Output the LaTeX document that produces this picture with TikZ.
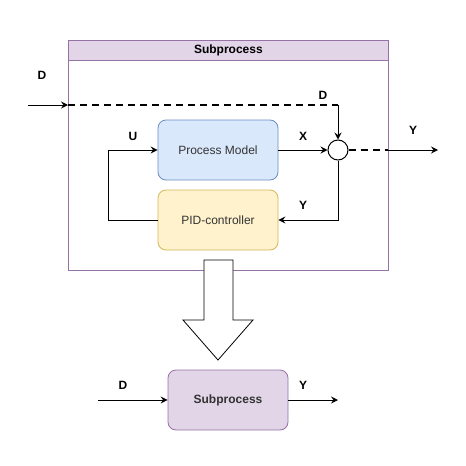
\documentclass[tikz,border=0pt]{standalone}
\usepackage{fontspec}
\setmainfont{Liberation Sans}
\usetikzlibrary{arrows.meta,shapes.arrows}
\definecolor{purpfill}{HTML}{E1D5E7}
\definecolor{purpline}{HTML}{9673A6}
\definecolor{bluefill}{HTML}{DAE8FC}
\definecolor{blueline}{HTML}{6C8EBF}
\definecolor{yelfill}{HTML}{FFF2CC}
\definecolor{yelline}{HTML}{D6B656}
\definecolor{txt}{HTML}{333333}
\begin{document}
\begin{tikzpicture}[x=1pt,y=-1pt,
  box/.style={draw,rounded corners=8pt,minimum width=120pt,minimum height=60pt,line width=0.8pt,font=\fontsize{12}{14}\selectfont,text=txt},
  lbl/.style={font=\bfseries\fontsize{12}{14}\selectfont},
  conn/.style={line width=1pt,-{Stealth[length=7pt,width=7pt,inset=2.5pt]}},
  plain/.style={line width=1pt},
  dashline/.style={line width=2pt,dash pattern=on 7pt off 5pt}]
\useasboundingbox (0,0) rectangle (466,466);
% container
\node[draw=purpline,fill=purpfill,line width=0.8pt,minimum width=320pt,minimum height=20pt,inner sep=0pt,anchor=north west,font=\bfseries\fontsize{12}{14}\selectfont] (hdr) at (68,40) {Subprocess};
\node[draw=purpline,line width=0.8pt,minimum width=320pt,minimum height=210pt,inner sep=0pt,anchor=north west] (cont) at (68,60) {};
% boxes
\node[box,draw=blueline,fill=bluefill] (pm) at (218,150) {Process Model};
\node[box,draw=yelline,fill=yelfill] (pid) at (218,220) {PID-controller};
\node[circle,draw,fill=white,line width=1pt,minimum size=20pt,inner sep=0pt] (sum) at (338,150) {};
% coordinates
\coordinate (din) at (28,105);
\coordinate (dedge) at (68,105);
\coordinate (dcorner) at (338,105);
\coordinate (yedge) at (388,150);
\coordinate (yout) at (438,150);
\coordinate (loopA) at (108,220);
\coordinate (loopB) at (108,150);
\coordinate (fbA) at (338,220);
% connectors
\draw[conn] (din) -- (dedge);
\draw[dashline] (dedge) -- (dcorner);
\draw[conn] (dcorner) -- (sum.north);
\draw[conn] (pm.east) -- (sum.west);
\draw[dashline] (sum.east) -- (yedge);
\draw[conn] (yedge) -- (yout);
\draw[conn] (pid.west) -- (loopA) -- (loopB) -- (pm.west);
\draw[conn] (sum.south) -- (fbA) -- (pid.east);
% labels
\node[lbl] (lD) at (42,75) {D};
\node[lbl] (lD2) at (323,95) {D};
\node[lbl] (lU) at (133,136) {U};
\node[lbl] (lX) at (303,136) {X};
\node[lbl] (lY) at (413,130) {Y};
\node[lbl] (lY2) at (303,205) {Y};
% block arrow
\draw[line width=0.8pt,fill=white] (204,260) -- (233,260) -- (233,320) -- (253,320) -- (218,360) -- (183,320) -- (204,320) -- cycle;
% bottom subprocess
\node[box,draw=purpline,fill=purpfill,font=\bfseries\fontsize{12}{14}\selectfont] (sub) at (228,400) {Subprocess};
\coordinate (bin) at (98,400);
\coordinate (bout) at (338,400);
\draw[conn] (bin) -- (sub.west);
\draw[conn] (sub.east) -- (bout);
\node[lbl] (bD) at (123,385) {D};
\node[lbl] (bY) at (303,385) {Y};
\end{tikzpicture}
\end{document}
